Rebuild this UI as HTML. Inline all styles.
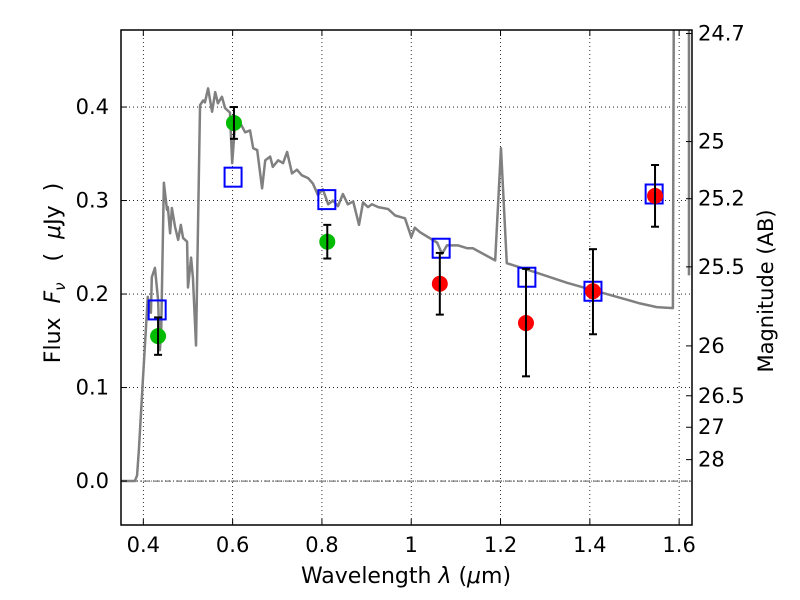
<!DOCTYPE html>
<html><head><meta charset="utf-8"><style>
html,body{margin:0;padding:0;background:#fff;}
svg{display:block;font-family:"DejaVu Sans","Liberation Sans",sans-serif;}
</style></head><body>
<svg id="chart" width="800" height="600"></svg>
<script>
const specLam=[0.350,0.381,0.386,0.390,0.399,0.410,0.417,0.419,0.426,0.433,0.437,0.440,0.446,0.453,0.455,0.460,0.464,0.471,0.478,0.484,0.489,0.498,0.500,0.507,0.511,0.518,0.527,0.534,0.538,0.545,0.554,0.561,0.567,0.576,0.583,0.594,0.599,0.605,0.617,0.628,0.639,0.646,0.655,0.666,0.673,0.684,0.690,0.702,0.713,0.722,0.733,0.744,0.755,0.769,0.780,0.791,0.802,0.814,0.825,0.836,0.847,0.858,0.870,0.883,0.892,0.903,0.912,0.926,0.948,0.964,0.986,1.000,1.008,1.020,1.058,1.069,1.080,1.105,1.125,1.138,1.188,1.201,1.214,1.273,1.349,1.423,1.483,1.512,1.550,1.586,1.588];
const specFlux=[0,0,0.006,0.033,0.108,0.197,0.180,0.218,0.228,0.194,0.140,0.160,0.319,0.290,0.293,0.265,0.292,0.272,0.258,0.274,0.260,0.256,0.207,0.239,0.218,0.145,0.402,0.407,0.405,0.420,0.395,0.416,0.404,0.411,0.399,0.394,0.340,0.379,0.383,0.373,0.375,0.356,0.354,0.313,0.343,0.347,0.336,0.343,0.340,0.352,0.329,0.333,0.327,0.324,0.318,0.306,0.312,0.296,0.300,0.294,0.307,0.296,0.299,0.274,0.298,0.293,0.296,0.293,0.291,0.284,0.281,0.261,0.271,0.266,0.255,0.243,0.252,0.252,0.249,0.249,0.236,0.356,0.233,0.224,0.212,0.202,0.194,0.190,0.186,0.185,0.50];
const spec2Lam=[1.622,1.622];
const spec2Flux=[0.50,0.220];
const greenLam=[0.433,0.603,0.812];
const greenFlux=[0.155,0.383,0.256];
const greenErr=[0.020,0.017,0.018];
const redLam=[1.064,1.257,1.407,1.546];
const redFlux=[0.211,0.169,0.203,0.305];
const redErrLo=[0.033,0.057,0.046,0.033];
const redErrHi=[0.033,0.058,0.045,0.033];
const modelLam=[0.431,0.601,0.811,1.067,1.259,1.407,1.544];
const modelFlux=[0.183,0.325,0.301,0.249,0.218,0.203,0.307];
const xTicks=[0.4,0.6,0.8,1.0,1.2,1.4,1.6];
const xTickLabels=["0.4","0.6","0.8","1","1.2","1.4","1.6"];
const yTicks=[0.0,0.1,0.2,0.3,0.4];
const yTickLabels=["0.0","0.1","0.2","0.3","0.4"];
const magTicks=[24.7,25,25.2,25.5,26,26.5,27,28];
const magLabels=["24.7","25","25.2","25.5","26","26.5","27","28"];

const L=121,R=692,T=30,B=525;
const xmin=0.35,xmax=1.6288,ymin=-0.0470,ymax=0.4824;
const X=v=>L+(v-xmin)/(xmax-xmin)*(R-L);
const Y=v=>B-(v-ymin)/(ymax-ymin)*(B-T);
const NS="http://www.w3.org/2000/svg";
const svg=document.getElementById('chart');
function el(tag,attrs,parent){const e=document.createElementNS(NS,tag);for(const k in attrs)e.setAttribute(k,attrs[k]);(parent||svg).appendChild(e);return e;}

const defs=el('defs',{});
const cp=el('clipPath',{id:'clip'},defs);
el('rect',{x:L,y:T,width:R-L,height:B-T},cp);

const grid=el('g',{});


xTicks.forEach(t=>el('line',{x1:X(t),x2:X(t),y1:T,y2:B,stroke:'#000','stroke-width':0.8,'stroke-dasharray':'1,3'},grid));
yTicks.forEach(t=>el('line',{x1:L,x2:R,y1:Y(t),y2:Y(t),stroke:'#000','stroke-width':0.8,'stroke-dasharray':'1,3'},grid));
const zl=el('line',{x1:L,x2:R,y1:Y(0),y2:Y(0),stroke:'#000','stroke-width':0.6,'stroke-dasharray':'6,2,1,2'});



const plot=el('g',{'clip-path':'url(#clip)'});
const sp=el('polyline',{points:specLam.map((v,i)=>X(v)+','+Y(specFlux[i])).join(' '),fill:'none',stroke:'#808080','stroke-width':2.5,'stroke-linejoin':'round'},plot);


const sp2=el('polyline',{points:spec2Lam.map((v,i)=>X(v)+','+Y(spec2Flux[i])).join(' '),fill:'none',stroke:'#808080','stroke-width':2.5},plot);



function errbar(x,lo,hi,name){
  const g=el('g',{stroke:'#000','stroke-width':2});
  
  
  el('line',{x1:X(x),x2:X(x),y1:Y(lo),y2:Y(hi)},g);
  el('line',{x1:X(x)-4,x2:X(x)+4,y1:Y(lo),y2:Y(lo)},g);
  el('line',{x1:X(x)-4,x2:X(x)+4,y1:Y(hi),y2:Y(hi)},g);
}
modelLam.forEach((v,i)=>{
  const r=el('rect',{x:X(v)-8.5,y:Y(modelFlux[i])-9.5,width:17,height:19,fill:'none',stroke:'#0000ff','stroke-width':2});
  
  
});
greenLam.forEach((v,i)=>{
  const c=el('circle',{cx:X(v),cy:Y(greenFlux[i]),r:8,fill:'#00bb00'});
  
  
  errbar(v,greenFlux[i]-greenErr[i],greenFlux[i]+greenErr[i],'green-error-bar');
});
redLam.forEach((v,i)=>{
  const c=el('circle',{cx:X(v),cy:Y(redFlux[i]),r:8,fill:'#ff0000'});
  
  
  errbar(v,redFlux[i]-redErrLo[i],redFlux[i]+redErrHi[i],'red-error-bar');
});

const fr=el('rect',{x:L,y:T,width:R-L,height:B-T,fill:'none',stroke:'#000','stroke-width':1.5});



xTicks.forEach((t,i)=>{
  el('line',{x1:X(t),x2:X(t),y1:B,y2:B-6,stroke:'#000'});
  el('line',{x1:X(t),x2:X(t),y1:T,y2:T+6,stroke:'#000'});
  const tx=el('text',{x:X(t),y:B+27,'font-size':21,'text-anchor':'middle'});
  tx.textContent=xTickLabels[i];
  
  
});
yTicks.forEach((t,i)=>{
  el('line',{x1:L,x2:L+6,y1:Y(t),y2:Y(t),stroke:'#000'});
  const tx=el('text',{x:L-12,y:Y(t)+7,'font-size':21,'text-anchor':'end'});
  tx.textContent=yTickLabels[i];
  
  
});
magTicks.forEach((m,i)=>{
  const f=Math.pow(10,(23.9-m)/2.5);
  el('line',{x1:R,x2:R-6,y1:Y(f),y2:Y(f),stroke:'#000'});
  const tx=el('text',{x:R+6,y:Y(f)+7,'font-size':21});
  tx.textContent=magLabels[i];
  
  
});

const xt=el('text',{x:406,y:583,'font-size':22,'text-anchor':'middle','xml:space':'preserve'});
xt.innerHTML='Wavelength  <tspan font-style="italic">λ</tspan> (<tspan font-style="italic">μ</tspan>m)';


const yt=el('text',{transform:'translate(60,273) rotate(-90)','font-size':22,'text-anchor':'middle','style':'white-space:pre'});
yt.innerHTML='Flux  <tspan font-style="italic">F</tspan><tspan font-style="italic" font-size="15" dy="5">ν</tspan><tspan dy="-5">   (  </tspan><tspan font-style="italic">μ</tspan>Jy  )';


const rt=el('text',{transform:'translate(773,291) rotate(-90)','font-size':21,'text-anchor':'middle'});
rt.textContent='Magnitude (AB)';


</script>
</body></html>
